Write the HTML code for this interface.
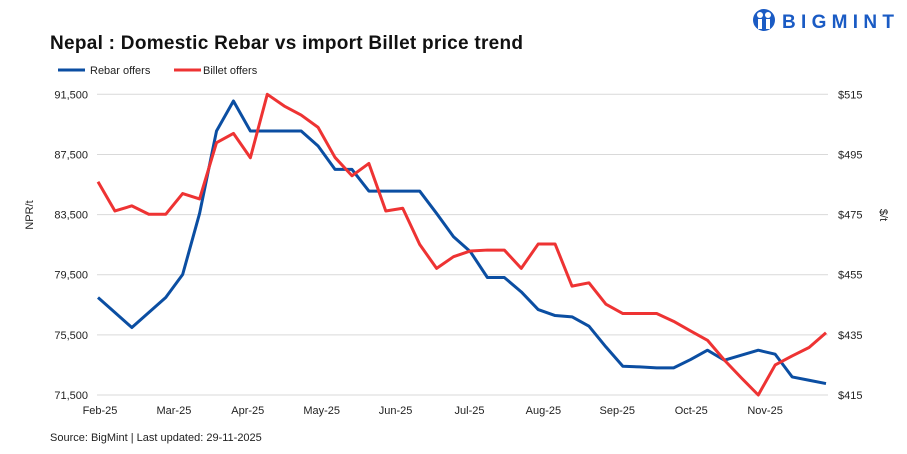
<!DOCTYPE html>
<html><head><meta charset="utf-8"><style>
body{margin:0;background:#fff;}
svg{display:block;font-family:"Liberation Sans",sans-serif;}
</style></head><body>
<svg id="chart" width="907" height="454" viewBox="0 0 907 454">
<text x="50" y="49" font-size="19" font-weight="bold" fill="#111" textLength="473">Nepal : Domestic Rebar vs import Billet price trend</text>
<g>
<circle cx="764" cy="20" r="11" fill="#1a5bc4"/>
<circle cx="760" cy="15" r="3" fill="#fff"/><circle cx="768" cy="15" r="3" fill="#fff"/>
<rect x="758" y="19" width="4" height="10" fill="#fff"/><rect x="766" y="19" width="4" height="10" fill="#fff"/>
<text x="782" y="28" font-size="19" font-weight="bold" fill="#1a5bc4" textLength="112">BIGMINT</text>
</g>
<g>
<g><line x1="58" y1="70" x2="85" y2="70" stroke="#0b4ea2" stroke-width="3"/><text x="90" y="74" font-size="11" fill="#222">Rebar offers</text></g>
<g><line x1="174" y1="70" x2="201" y2="70" stroke="#ee3333" stroke-width="3"/><text x="203" y="74" font-size="11" fill="#222">Billet offers</text></g>
</g>
<g id="grid"></g>
<g id="yl"></g>
<g id="yr"></g>
<g id="xa"></g>
<text transform="translate(33,215) rotate(-90)" text-anchor="middle" font-size="11" fill="#222">NPR/t</text>
<text transform="translate(880,215) rotate(90)" text-anchor="middle" font-size="11" fill="#222">$/t</text>
<g id="series"></g>
<text x="50" y="441" font-size="11" fill="#222">Source: BigMint | Last updated: 29-11-2025</text>
</svg>
<script>
const months=["Feb-25","Mar-25","Apr-25","May-25","Jun-25","Jul-25","Aug-25","Sep-25","Oct-25","Nov-25"];
const leftTicks=[71500,75500,79500,83500,87500,91500];
const rightTicks=[415,435,455,475,495,515];
const rebar=[77985,76986,75987,76986,77985,79515,83576,89057,91054,89057,89057,89057,89057,88058,86505,86505,85063,85063,85063,85063,83576,82023,81024,79315,79315,78361,77185,76786,76697,76076,74700,73413,73368,73302,73302,73857,74478,73812,74145,74478,74212,72703,72481,72259];
const billet=[485.9,476.2,477.9,475.1,475.1,482.0,480.2,498.9,502.0,493.9,515.0,511.1,508.1,504.0,494.0,487.9,492.0,476.2,477.1,465.1,457.1,461.0,462.9,463.2,463.2,457.1,465.2,465.2,451.2,452.3,452.3,445.2,442.1,442.1,442.1,439.5,436.3,433.2,426.6,420.7,415.0,425.0,428.0,430.8,435.7];
billet.splice(30,1);
const NS="http://www.w3.org/2000/svg";
const x0=98,dx=16.93,yTop=94.3,yBot=395;
const xs=i=>x0+i*dx;
const yL=v=>yBot-(v-71500)/(20000)*(yBot-yTop);
const yR=v=>yBot-(v-415)/100*(yBot-yTop);
function mk(tag,attrs,parent){const e=document.createElementNS(NS,tag);for(const k in attrs)e.setAttribute(k,attrs[k]);parent.appendChild(e);return e;}
const grid=document.getElementById('grid'),yl=document.getElementById('yl'),yr=document.getElementById('yr'),xa=document.getElementById('xa'),ser=document.getElementById('series');
leftTicks.forEach((t,i)=>{
 const l=mk('line',{x1:97,x2:828,y1:yL(t),y2:yL(t),stroke:'#d9d9d9','stroke-width':1},grid);
 
 
 const a=mk('text',{x:88,y:yL(t)+4,'text-anchor':'end','font-size':11,fill:'#222'},yl);
 a.textContent=t.toLocaleString('en-US');
 
 
 const b=mk('text',{x:838,y:yR(rightTicks[i])+4,'font-size':11,fill:'#222'},yr);
 b.textContent='$'+rightTicks[i];
 
 
});
months.forEach((m,i)=>{
 const t=mk('text',{x:100+i*73.9,y:414,'text-anchor':'middle','font-size':11,fill:'#222'},xa);
 t.textContent=m;
 
 
});
const p1=mk('polyline',{points:rebar.map((v,i)=>xs(i)+','+yL(v)).join(' '),fill:'none',stroke:'#0b4ea2','stroke-width':3,'stroke-linejoin':'round'},ser);


const p2=mk('polyline',{points:billet.map((v,i)=>xs(i)+','+yR(v)).join(' '),fill:'none',stroke:'#ee3333','stroke-width':3,'stroke-linejoin':'round'},ser);


</script>
</body></html>
